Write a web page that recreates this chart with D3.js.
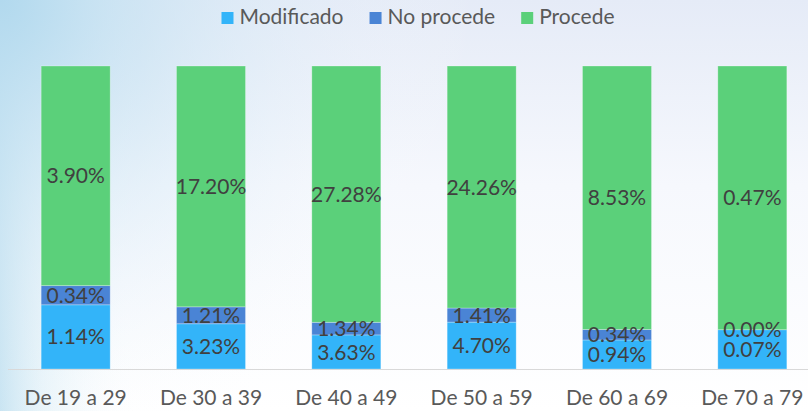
<!DOCTYPE html>
<html>
<head>
<meta charset="utf-8">
<script src="https://cdn.jsdelivr.net/npm/d3@7"></script>
<style>
  html, body { margin: 0; padding: 0; background: #fff; }
  svg { display: block; font-family: Lato, "Open Sans", sans-serif; }
</style>
</head>
<body>
<svg id="chart" width="808" height="411"></svg>
<script>
// Age groups and the share of each outcome (percent of all cases)
const categories = ["De 19 a 29", "De 30 a 39", "De 40 a 49", "De 50 a 59", "De 60 a 69", "De 70 a 79"];
const seriesNames = ["Modificado", "No procede", "Procede"];
const modificado = [1.14, 3.23, 3.63, 4.70, 0.94, 0.07];
const noProcede  = [0.34, 1.21, 1.34, 1.41, 0.34, 0.00];
const procede    = [3.90, 17.20, 27.28, 24.26, 8.53, 0.47];
const colors = ["#33b4f9", "#4a84d5", "#5bd07a"];

const W = 808, H = 411;
const svg = d3.select("#chart");

// Background: pale lavender at the top fading to white, with a blue wash on the left
const defs = svg.append("defs");
const lin = defs.append("linearGradient").attr("id", "bgLin")
  .attr("x1", 0).attr("y1", 0).attr("x2", 0).attr("y2", 1);
lin.append("stop").attr("offset", 0).attr("stop-color", "#e5ebf7");
lin.append("stop").attr("offset", 0.45).attr("stop-color", "#f6f8fd");
lin.append("stop").attr("offset", 1).attr("stop-color", "#ffffff");
const side = defs.append("linearGradient").attr("id", "bgSide")
  .attr("x1", 0).attr("y1", 0).attr("x2", 1).attr("y2", 0);
side.append("stop").attr("offset", 0).attr("stop-color", "#c4e2f1").attr("stop-opacity", 1);
side.append("stop").attr("offset", 0.3).attr("stop-color", "#d9edf6").attr("stop-opacity", 0.6);
side.append("stop").attr("offset", 1).attr("stop-color", "#ffffff").attr("stop-opacity", 0);
const rad = defs.append("radialGradient").attr("id", "bgRad")
  .attr("gradientUnits", "userSpaceOnUse")
  .attr("cx", 0).attr("cy", 0).attr("r", 480);
rad.append("stop").attr("offset", 0).attr("stop-color", "#b2d9ee").attr("stop-opacity", 1);
rad.append("stop").attr("offset", 0.35).attr("stop-color", "#c9e4f3").attr("stop-opacity", 0.6);
rad.append("stop").attr("offset", 0.7).attr("stop-color", "#e4f0f9").attr("stop-opacity", 0.25);
rad.append("stop").attr("offset", 1).attr("stop-color", "#ffffff").attr("stop-opacity", 0);
svg.append("rect").attr("width", W).attr("height", H).attr("fill", "url(#bgLin)");
svg.append("rect").attr("width", 140).attr("height", H).attr("fill", "url(#bgSide)");
svg.append("rect").attr("width", W).attr("height", H).attr("fill", "url(#bgRad)");

// Rows normalised to 100% per age group
const rows = categories.map((c, i) => {
  const vals = [modificado[i], noProcede[i], procede[i]];
  const total = d3.sum(vals);
  const r = { cat: c };
  seriesNames.forEach((s, k) => { r[s] = vals[k] / total; r[s + "_raw"] = vals[k]; });
  return r;
});
const stacked = d3.stack().keys(seriesNames)(rows);

const x = d3.scaleBand().domain(categories).range([8, 820])
  .paddingInner(0.49).paddingOuter(0.245);
const y = d3.scaleLinear().domain([0, 1]).range([369, 66]);
const color = d3.scaleOrdinal().domain(seriesNames).range(colors);

// Stacked bars
const layers = svg.append("g").selectAll("g").data(stacked).join("g")
  .attr("fill", d => color(d.key));
layers.selectAll("rect").data(d => d.map(p => ({ p, key: d.key }))).join("rect")
  .attr("x", d => x(d.p.data.cat))
  .attr("width", x.bandwidth())
  .attr("y", d => y(d.p[1]))
  .attr("height", d => y(d.p[0]) - y(d.p[1]))
  .attr("stroke", "#ffffff").attr("stroke-opacity", 0.35).attr("stroke-width", 0.8);

// Category axis
const xAxis = svg.append("g").attr("transform", "translate(0,369)")
  .call(d3.axisBottom(x).tickSize(0).tickPadding(21));
xAxis.select(".domain").attr("stroke", "#d9d9d9").attr("stroke-width", 1.2)
  .attr("d", "M8,0.5H808");
xAxis.selectAll("text").attr("font-size", 21).attr("fill", "#595959")
  .attr("font-family", "Lato, sans-serif");

// Segment value labels
const labels = svg.append("g");
stacked.forEach(layer => {
  labels.selectAll(null).data(layer).join("text")
    .attr("x", d => x(d.data.cat) + x.bandwidth() / 2)
    .attr("y", d => (y(d[0]) + y(d[1])) / 2)
    .attr("dy", "0.36em")
    .attr("text-anchor", "middle")
    .attr("font-size", 21)
    .attr("fill", "#404040")
    .text(d => d.data[layer.key + "_raw"].toFixed(2) + "%");
});

// Legend, centred above the plot
const legend = svg.append("g");
const items = legend.selectAll("g").data(seriesNames).join("g");
items.append("rect").attr("width", 12).attr("height", 12).attr("y", 12)
  .attr("fill", d => color(d));
items.append("text").attr("x", 18).attr("y", 24)
  .attr("font-size", 21).attr("fill", "#595959").text(d => d);
const widths = [];
items.each(function () {
  widths.push(18 + d3.select(this).select("text").node().getComputedTextLength());
});
const gap = 26;
const totalW = d3.sum(widths) + gap * (widths.length - 1);
let start = 418 - totalW / 2;
items.attr("transform", (d, i) => {
  const t = `translate(${start},0)`;
  start += widths[i] + gap;
  return t;
});
</script>
</body>
</html>
